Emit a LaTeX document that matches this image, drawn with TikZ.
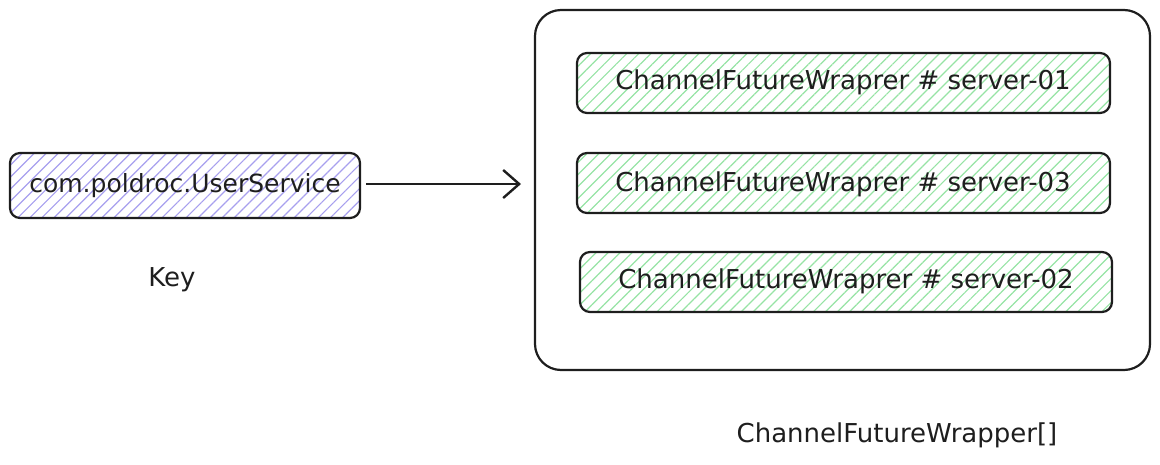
\documentclass[tikz,border=0pt]{standalone}
\usepackage{fontspec}
\setmainfont{DejaVu Sans}
\usetikzlibrary{patterns.meta,arrows.meta}
\definecolor{hatchpurple}{HTML}{A79FEE}
\definecolor{hatchgreen}{HTML}{96E3A4}
\definecolor{inkc}{HTML}{1E1E1E}
\tikzset{
  hand/.style={font=\fontsize{26}{30}\selectfont, text=inkc},
  handkey/.style={font=\fontsize{25}{29}\selectfont, text=inkc},
  keybox/.style={draw=inkc, line width=2.2pt, rounded corners=10pt,
    pattern={Lines[angle=45,distance=8.5pt,line width=1.2pt]}, pattern color=hatchpurple},
  wrapbox/.style={draw=inkc, line width=2.2pt, rounded corners=10pt,
    pattern={Lines[angle=45,distance=8.5pt,line width=1.2pt]}, pattern color=hatchgreen},
  container/.style={draw=inkc, line width=2.2pt, rounded corners=26pt},
  conn/.style={draw=inkc, line width=2.4pt, -{Straight Barb[length=16pt,width=28pt,line width=2.4pt]}},
}
\begin{document}
\begin{tikzpicture}[x=1pt,y=-1pt]
\useasboundingbox (0,0) rectangle (1160,464);
% container
\draw[container] (535,10) rectangle (1150,370);
% key box
\draw[keybox] (10,153) rectangle (360,218);
\node[handkey] (key) at (185,186) {com.poldroc.UserService};
\coordinate (keyR) at (366,184);
\coordinate (contL) at (521,184);
\draw[conn] (keyR) -- (contL);
\node[hand] (keylbl) at (172,280) {Key};
% wrapper boxes
\draw[wrapbox] (577,53) rectangle (1110,113);
\node[hand] (w1) at (843,82) {ChannelFutureWraprer \# server-01};
\draw[wrapbox] (577,153) rectangle (1110,213);
\node[hand] (w3) at (843,184) {ChannelFutureWraprer \# server-03};
\draw[wrapbox] (580,252) rectangle (1112,312);
\node[hand] (w2) at (846,281) {ChannelFutureWraprer \# server-02};
\node[hand] (arr) at (897,435) {ChannelFutureWrapper[]};
\end{tikzpicture}
\end{document}
